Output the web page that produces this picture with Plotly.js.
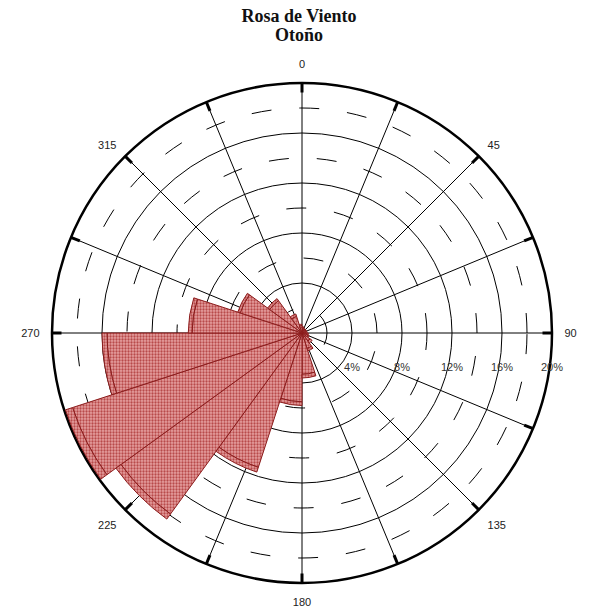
<!DOCTYPE html>
<html>
<head>
<meta charset="utf-8">
<script src="https://cdn.plot.ly/plotly-3.0.1.min.js"></script>
<style>html,body{margin:0;padding:0;background:#fff;}#chart{width:590px;height:613px;}</style>
</head>
<body>
<div id="chart"></div>
<script>
// Sector centres (degrees, clockwise from north), 20 sectors of 18 degrees
const sectorCenters = [9,27,45,63,81,99,117,135,153,171,189,207,225,243,261,279,297,315,333,351];
const sectorWidths  = [18,18,18,18,18,18,18,18,18,18,18,18,18,18,18,18,18,18,18,18];
// Frequency (%) by speed class (stacked)
const lowSpeed  = [0.4,0.3,0.3,0.3,0.3,0.4,0.5,0.8,1.3,3.3,5.5,11.3,17.9,19.3,15.6,8.8,5.2,3.2,1.4,0.6];
const highSpeed = [0.1,0.1,0.1,0.1,0.1,0.1,0.1,0.2,0.2,0.3,0.3,0.4,0.5,0.6,0.4,0.3,0.2,0.2,0.2,0.1];
// Axis ticks
const angleTicks = [0,22.5,45,67.5,90,112.5,135,157.5,180,202.5,225,247.5,270,292.5,315,337.5];
const angleLabels = ['0','','45','','90','','135','','180','','225','','270','','315',''];
const radialTicks = [4,8,12,16,20];
const radialLabels = ['4%','8%','12%','16%','20%'];
const radialDashTicks = [2,6,10,14,18];

const fillColor = '#d98080';
const barStyle = {
  color: fillColor,
  line: {color: '#8b1c1c', width: 1},
  pattern: {shape: '.', fgcolor: '#b84a4a', bgcolor: '#e6a0a0', size: 3, solidity: 0.45}
};

const traces = [
  // empty trace so that the base grid subplot is drawn
  {type:'scatterpolar', subplot:'polar', r: [], theta: [], mode:'markers', hoverinfo:'skip', showlegend:false},
  {type:'barpolar', subplot:'polar2', r: lowSpeed, theta: sectorCenters, width: sectorWidths,
   marker: barStyle, hoverinfo:'skip', showlegend:false},
  {type:'barpolar', subplot:'polar2', r: highSpeed, theta: sectorCenters, width: sectorWidths,
   marker: barStyle, hoverinfo:'skip', showlegend:false}
];

const domX = [52/590, 552/590];
const domY = [(613-583)/613, (613-83)/613];
const serif = 'Liberation Serif, Times New Roman, serif';

const layout = {
  width: 590, height: 613,
  margin: {l:0, r:0, t:0, b:0},
  paper_bgcolor: '#ffffff',
  showlegend: false,
  title: {
    text: '<b>Rosa de Viento</b>',
    x: 0.507, xanchor: 'center', y: 1 - 16/613, yanchor: 'middle',
    font: {family: serif, size: 18, color: '#111'}
  },
  annotations: [{
    text: '<b>Otoño</b>', xref: 'paper', yref: 'paper',
    x: 0.507, xanchor: 'center', y: 1 - 35/613, yanchor: 'middle',
    showarrow: false, font: {family: serif, size: 18, color: '#111'}
  }],
  polar: {
    domain: {x: domX, y: domY},
    bgcolor: '#ffffff',
    angularaxis: {
      direction: 'clockwise', rotation: 90,
      tickmode: 'array', tickvals: angleTicks, ticktext: angleLabels,
      ticks: 'outside', ticklen: 9, tickcolor: 'rgba(0,0,0,0)',
      showline: true, linecolor: '#000', linewidth: 2.5,
      showgrid: true, gridcolor: '#000', gridwidth: 1,
      tickfont: {family: 'Liberation Sans, Arial, sans-serif', size: 11, color: '#222'},
      layer: 'below traces'
    },
    radialaxis: {
      range: [0, 20], angle: 0, side: 'clockwise',
      tickmode: 'array', tickvals: radialTicks, ticktext: radialLabels,
      ticks: 'outside', ticklen: 24, tickcolor: 'rgba(0,0,0,0)',
      showline: false, showgrid: true, gridcolor: '#000', gridwidth: 1,
      tickfont: {family: 'Liberation Sans, Arial, sans-serif', size: 11, color: '#333'},
      layer: 'below traces'
    }
  },
  polar2: {
    domain: {x: domX, y: domY},
    bgcolor: 'rgba(0,0,0,0)',
    barmode: 'stack',
    angularaxis: {
      direction: 'clockwise', rotation: 90,
      tickmode: 'array', tickvals: angleTicks, showticklabels: false,
      ticks: 'inside', ticklen: 9, tickwidth: 3, tickcolor: '#000',
      showline: false, showgrid: false,
      layer: 'below traces'
    },
    radialaxis: {
      range: [0, 20], angle: 0,
      tickmode: 'array', tickvals: radialDashTicks, showticklabels: false, ticks: '',
      showline: false, showgrid: true, gridcolor: '#000', gridwidth: 1, griddash: '20px,28px',
      layer: 'below traces'
    }
  }
};

Plotly.newPlot('chart', traces, layout, {displayModeBar: false, staticPlot: true});
</script>
</body>
</html>
